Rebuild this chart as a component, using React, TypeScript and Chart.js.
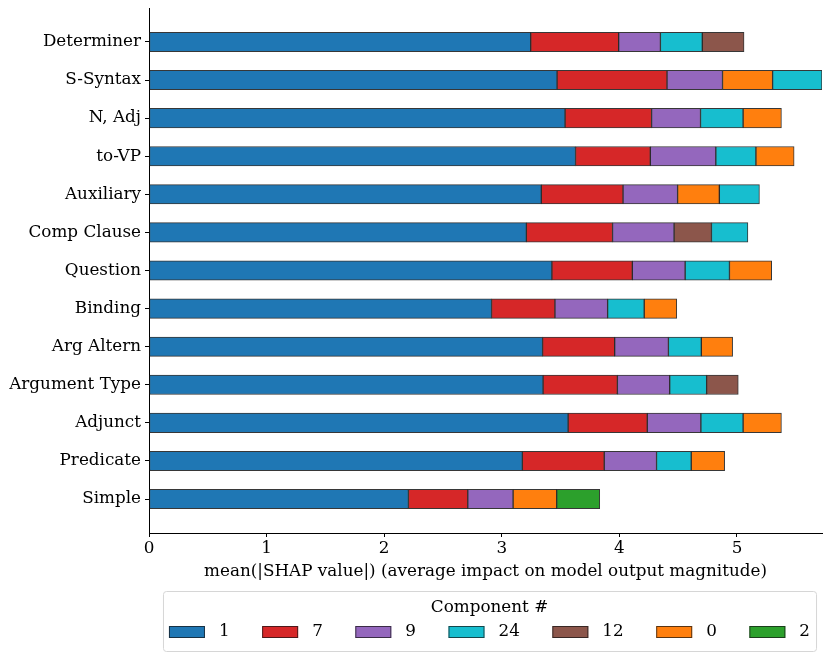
import { useEffect, useRef } from 'react';
import { Chart, registerables } from 'chart.js';
import type { ChartConfiguration, Plugin } from 'chart.js';

Chart.register(...registerables);

const FONT = '"DejaVu Serif", "Liberation Serif", serif';
const FONT_SIZE = 16.8;

// categories from top to bottom
const categories = [
  'Determiner', 'S-Syntax', 'N, Adj', 'to-VP', 'Auxiliary', 'Comp Clause', 'Question',
  'Binding', 'Arg Altern', 'Argument Type', 'Adjunct', 'Predicate', 'Simple',
];

const components = ['1', '7', '9', '24', '12', '0', '2'];
const componentColors = ['#1f77b4', '#d62728', '#9467bd', '#17becf', '#8c564b', '#ff7f0e', '#2ca02c'];

// mean |SHAP| per component, one value per category (null = not shown)
const comp1 = [3.246, 3.470, 3.538, 3.627, 3.336, 3.209, 3.426, 2.913, 3.347, 3.351, 3.564, 3.175, 2.206];
const comp7 = [0.748, 0.935, 0.736, 0.636, 0.695, 0.733, 0.684, 0.539, 0.613, 0.632, 0.673, 0.696, 0.505];
const comp9 = [0.355, 0.472, 0.416, 0.557, 0.464, 0.523, 0.449, 0.448, 0.457, 0.445, 0.456, 0.445, 0.385];
const comp24 = [0.356, 0.420, 0.362, 0.341, 0.341, 0.310, 0.377, 0.311, 0.280, 0.314, 0.359, 0.295, null];
const comp12 = [0.355, null, null, null, null, 0.318, null, null, null, 0.269, null, null, null];
const comp0 = [null, 0.426, 0.326, 0.325, 0.355, null, 0.359, 0.277, 0.266, null, 0.326, 0.284, 0.371];
const comp2 = [null, null, null, null, null, null, null, null, null, null, null, null, 0.366];

// stacking order of the segments in each bar
const stackOrder = [
  ['1', '7', '9', '24', '12'],
  ['1', '7', '9', '0', '24'],
  ['1', '7', '9', '24', '0'],
  ['1', '7', '9', '24', '0'],
  ['1', '7', '9', '0', '24'],
  ['1', '7', '9', '12', '24'],
  ['1', '7', '9', '24', '0'],
  ['1', '7', '9', '24', '0'],
  ['1', '7', '9', '24', '0'],
  ['1', '7', '9', '24', '12'],
  ['1', '7', '9', '24', '0'],
  ['1', '7', '9', '24', '0'],
  ['1', '7', '9', '0', '2'],
];

const xTicks = [0, 1, 2, 3, 4, 5];

const valuesByComponent: Record<string, (number | null)[]> = {
  '1': comp1, '7': comp7, '9': comp9, '24': comp24, '12': comp12, '0': comp0, '2': comp2,
};

function buildDatasets() {
  const spans: Record<string, { x: [number, number]; y: number }[]> = {};
  components.forEach((c) => (spans[c] = []));
  let maxTotal = 0;
  categories.forEach((_, i) => {
    let cum = 0;
    stackOrder[i].forEach((c) => {
      const v = valuesByComponent[c][i];
      if (v == null) return;
      spans[c].push({ x: [cum, cum + v], y: i });
      cum += v;
    });
    maxTotal = Math.max(maxTotal, cum);
  });
  const datasets = components.map((c, k) => ({
    label: c,
    data: spans[c],
    backgroundColor: componentColors[k],
    borderColor: 'rgba(20,20,20,0.85)',
    borderWidth: 1,
    borderSkipped: false as const,
    barThickness: 19.4,
    grouped: false,
  }));
  return { datasets, maxTotal };
}

const legendBox: Plugin<'bar'> = {
  id: 'legendBox',
  afterDraw(chart) {
    const { ctx, chartArea } = chart;
    ctx.save();
    ctx.font = `${FONT_SIZE}px ${FONT}`;
    const boxW = 36, boxH = 12, gap = 14, sep = 32.5;
    const widths = components.map((c) => boxW + gap + ctx.measureText(c).width);
    const total = widths.reduce((a, b) => a + b, 0) + sep * (components.length - 1);
    const cx = (chartArea.left + chartArea.right) / 2 + 4;
    const top = chartArea.bottom + 58;
    const left = cx - total / 2;

    ctx.beginPath();
    ctx.roundRect(left - 5.5, top + 0.5, total + 12, 60, 3);
    ctx.fillStyle = 'rgba(255,255,255,0.8)';
    ctx.fill();
    ctx.strokeStyle = '#d6d6d6';
    ctx.lineWidth = 1;
    ctx.stroke();

    ctx.fillStyle = '#000';
    ctx.textAlign = 'center';
    ctx.textBaseline = 'middle';
    ctx.fillText('Component #', cx, top + 17);

    const itemY = top + 41;
    let x = left;
    ctx.textAlign = 'left';
    components.forEach((c, k) => {
      ctx.fillStyle = componentColors[k];
      ctx.fillRect(x, itemY - boxH / 2, boxW, boxH);
      ctx.strokeStyle = 'rgba(20,20,20,0.7)';
      ctx.lineWidth = 1;
      ctx.strokeRect(x + 0.5, itemY - boxH / 2 + 0.5, boxW - 1, boxH - 1);
      ctx.fillStyle = '#000';
      ctx.fillText(c, x + boxW + gap, itemY);
      x += widths[k] + sep;
    });
    ctx.restore();
  },
};

export default function App() {
  const canvasRef = useRef<HTMLCanvasElement>(null);
  const chartRef = useRef<Chart<'bar'> | null>(null);

  useEffect(() => {
    if (!canvasRef.current) return;
    if (chartRef.current) chartRef.current.destroy();

    const { datasets, maxTotal } = buildDatasets();

    const config: ChartConfiguration<'bar'> = {
      type: 'bar',
      data: { datasets: datasets as any },
      options: {
        indexAxis: 'y',
        responsive: true,
        maintainAspectRatio: false,
        animation: false,
        layout: { padding: { top: 0, right: 1, bottom: 75, left: 0 } },
        plugins: {
          legend: { display: false },
          tooltip: { enabled: false },
        },
        scales: {
          x: {
            type: 'linear',
            min: 0,
            max: maxTotal,
            afterBuildTicks: (scale) => {
              scale.ticks = xTicks.map((v) => ({ value: v }));
            },
            afterFit: (scale) => {
              scale.height = 49;
            },
            grid: { drawOnChartArea: false, drawTicks: true, tickLength: 4, color: '#000' },
            border: { display: true, color: '#000', width: 1 },
            ticks: { color: '#000', padding: 2, font: { family: FONT, size: FONT_SIZE } },
            title: {
              display: true,
              text: 'mean(|SHAP value|) (average impact on model output magnitude)',
              color: '#000',
              font: { family: FONT, size: FONT_SIZE },
              padding: { top: 2.4, bottom: 0 },
            },
          },
          y: {
            type: 'linear',
            reverse: true,
            offset: false,
            min: -0.89,
            max: categories.length - 1 + 0.89,
            afterBuildTicks: (scale) => {
              scale.ticks = categories.map((_, i) => ({ value: i }));
            },
            afterFit: (scale) => {
              scale.width = 141;
              scale.paddingTop = 0;
              scale.paddingBottom = 0;
            },
            grid: { offset: false, drawOnChartArea: false, drawTicks: true, tickLength: 4, color: '#000' },
            border: { display: true, color: '#000', width: 1 },
            ticks: {
              color: '#000',
              padding: 4,
              font: { family: FONT, size: FONT_SIZE },
              callback: (value) => categories[Number(value)] ?? '',
            },
          },
        },
      },
      plugins: [legendBox],
    };

    chartRef.current = new Chart(canvasRef.current, config);
    return () => {
      chartRef.current?.destroy();
      chartRef.current = null;
    };
  }, []);

  return (
    <div style={{ width: 815, height: 649, position: 'relative' }}>
      <canvas ref={canvasRef} />
    </div>
  );
}
